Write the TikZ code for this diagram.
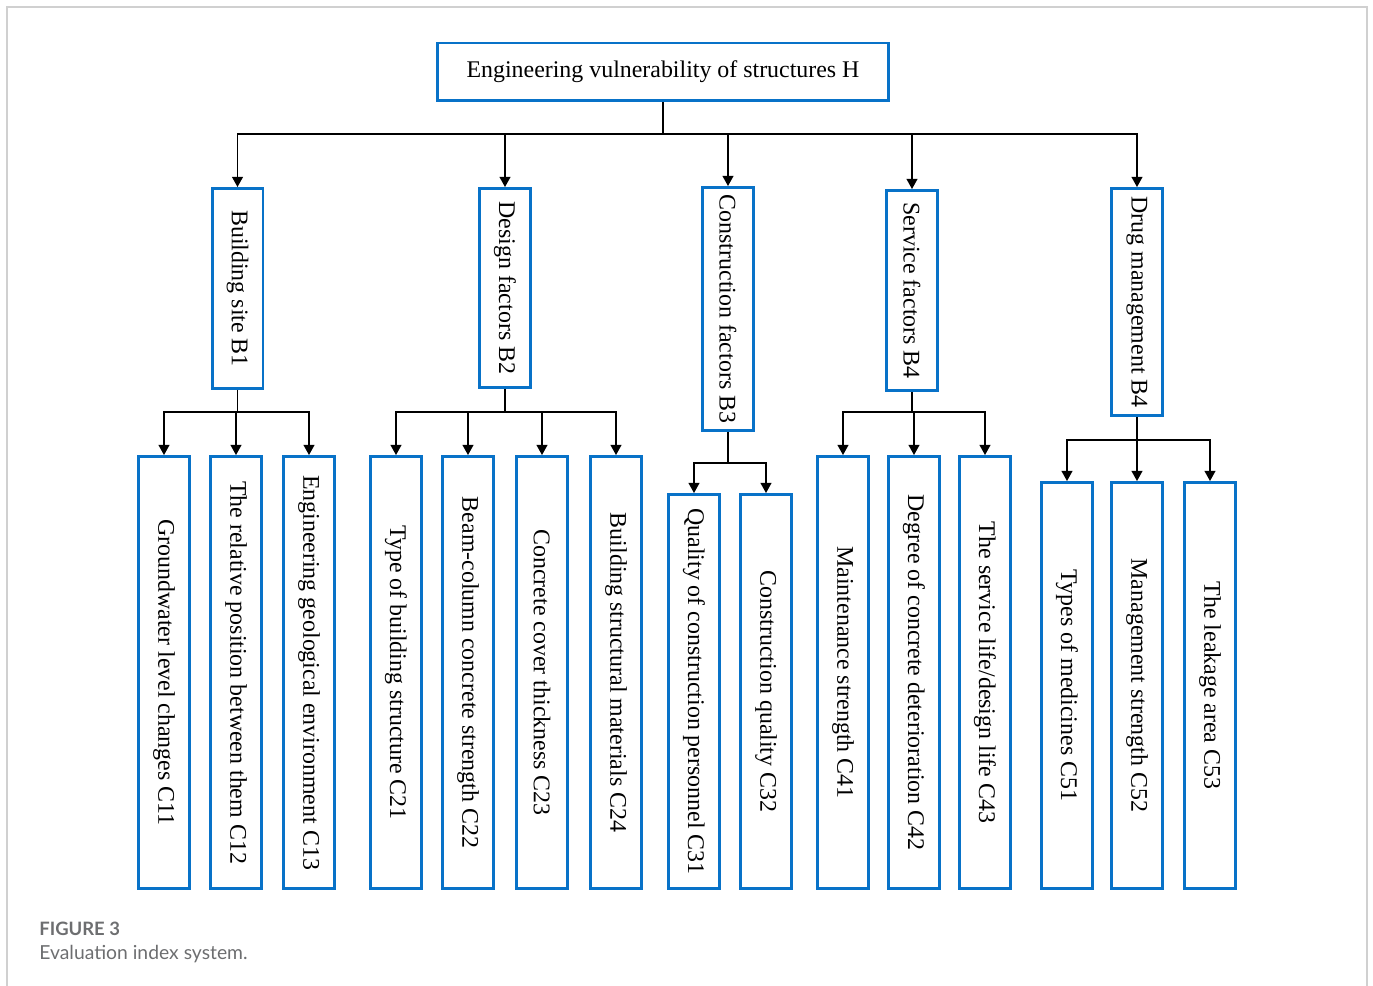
\documentclass[tikz,border=0pt]{standalone}
\usepackage{fontspec}
\setmainfont{Liberation Serif}
\newfontfamily\capfont{Lato}
\usetikzlibrary{arrows.meta}
\definecolor{boxblue}{HTML}{0872C8}
\definecolor{capgrey}{HTML}{6D6E70}
\definecolor{framegrey}{HTML}{D0D0D0}
\begin{document}
\begin{tikzpicture}[x=0.02cm, y=-0.02cm,
    box/.style={draw=boxblue, line width=1.7pt, inner sep=0pt, font=\fontsize{13.6}{16}\selectfont},
    vbox/.style={box, minimum width=1.02cm},
    link/.style={line width=0.85pt, -{Triangle[length=5.8pt,width=6.2pt]}},
    captext/.style={anchor=base west, inner sep=0pt, text=capgrey}]
      \useasboundingbox (0,0) rectangle (1373,986);
      \draw[framegrey, line width=0.9pt] (7,986) -- (7,7) -- (1367,7) -- (1367,986);
      \draw
        (663,72) node[box, minimum width=9.02cm, minimum height=1.16cm] (h){Engineering vulnerability of structures H}
        (237.5,288.5) node[vbox, minimum height=4cm] (b1){\rotatebox{-90}{Building site B1}}
        (505,288) node[vbox, minimum height=3.98cm] (b2){\rotatebox{-90}{Design factors B2}}
        (728,309) node[vbox, minimum height=4.86cm] (b3){\rotatebox{-90}{Construction factors B3}}
        (912,290.5) node[vbox, minimum height=4cm] (b4){\rotatebox{-90}{Service factors B4}}
        (1137,302) node[vbox, minimum height=4.54cm] (b5){\rotatebox{-90}{Drug management B4}}
        (164,672.5) node[vbox, minimum height=8.64cm] (c11){\rotatebox{-90}{Groundwater level changes C11}}
        (236,672.5) node[vbox, minimum height=8.64cm] (c12){\rotatebox{-90}{The relative position between them C12}}
        (309,672.5) node[vbox, minimum height=8.64cm] (c13){\rotatebox{-90}{Engineering geological environment C13}}
        (396,672.5) node[vbox, minimum height=8.64cm] (c21){\rotatebox{-90}{Type of building structure C21}}
        (468,672.5) node[vbox, minimum height=8.64cm] (c22){\rotatebox{-90}{Beam-column concrete strength C22}}
        (542,672.5) node[vbox, minimum height=8.64cm] (c23){\rotatebox{-90}{Concrete cover thickness C23}}
        (616,672.5) node[vbox, minimum height=8.64cm] (c24){\rotatebox{-90}{Building structural materials C24}}
        (694,691.5) node[vbox, minimum height=7.88cm] (c31){\rotatebox{-90}{Quality of construction personnel C31}}
        (766,691.5) node[vbox, minimum height=7.88cm] (c32){\rotatebox{-90}{Construction quality C32}}
        (843,672.5) node[vbox, minimum height=8.64cm] (c41){\rotatebox{-90}{Maintenance strength C41}}
        (914,672.5) node[vbox, minimum height=8.64cm] (c42){\rotatebox{-90}{Degree of concrete deterioration C42}}
        (985,672.5) node[vbox, minimum height=8.64cm] (c43){\rotatebox{-90}{The service life/design life C43}}
        (1067,685.5) node[vbox, minimum height=8.12cm] (c51){\rotatebox{-90}{Types of medicines C51}}
        (1137,685.5) node[vbox, minimum height=8.12cm] (c52){\rotatebox{-90}{Management strength C52}}
        (1210,685.5) node[vbox, minimum height=8.12cm] (c53){\rotatebox{-90}{The leakage area C53}}
        (39,935) node[captext, font=\capfont\bfseries\fontsize{10.5}{12}\selectfont] (fig){FIGURE 3}
        (39,959) node[captext, font=\capfont\fontsize{11}{13}\selectfont] (caption){Evaluation index system.};
      \coordinate (hj) at (663,134);
      \coordinate (j1) at (237.5,412);
      \coordinate (j2) at (505,412);
      \coordinate (j3) at (728,463);
      \coordinate (j4) at (912,412);
      \coordinate (j5) at (1137,440);
      \begin{scope}[link]
        \draw[-] (h) to (hj);
        \draw (hj) -| (b1);
        \draw (hj) -| (b2);
        \draw (hj) -| (b3);
        \draw (hj) -| (b4);
        \draw (hj) -| (b5);
        \draw[-] (b1) to (j1);
        \draw (j1) -| (c11);
        \draw (j1) -| (c12);
        \draw (j1) -| (c13);
        \draw[-] (b2) to (j2);
        \draw (j2) -| (c21);
        \draw (j2) -| (c22);
        \draw (j2) -| (c23);
        \draw (j2) -| (c24);
        \draw[-] (b3) to (j3);
        \draw (j3) -| (c31);
        \draw (j3) -| (c32);
        \draw[-] (b4) to (j4);
        \draw (j4) -| (c41);
        \draw (j4) -| (c42);
        \draw (j4) -| (c43);
        \draw[-] (b5) to (j5);
        \draw (j5) -| (c51);
        \draw (j5) -| (c52);
        \draw (j5) -| (c53);
      \end{scope}
    \end{tikzpicture}
\end{document}
